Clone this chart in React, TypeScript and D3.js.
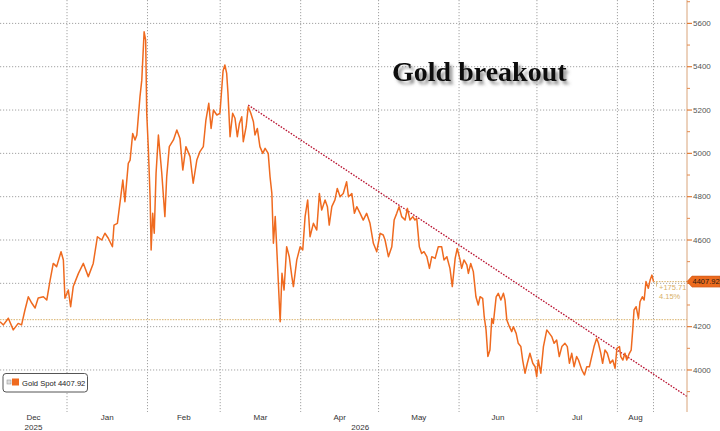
import React from "react";
import * as d3 from "d3";

// ---------- data ----------
const TITLE = "Gold breakout";
const SERIES_NAME = "Gold Spot";
const LAST_PRICE = 4407.92;
const CHANGE_ABS = "+175.71";
const CHANGE_PCT = "4.15%";
const REFERENCE_PRICE = 4232.21;

// day offsets are counted from this date (UTC)
const DAY0 = Date.UTC(2025, 11, 1);
const X_DOMAIN_DAYS = [5.19, 269.8];
const Y_DOMAIN = [3806, 5708];
const MAJOR_TICKS = [4000, 4200, 4400, 4600, 4800, 5000, 5200, 5400, 5600];
const MINOR_TICKS = [3900, 4100, 4300, 4500, 4700, 4900, 5100, 5300, 5500, 5700];
const MONTH_STARTS = ["2025-12-01", "2026-01-01", "2026-02-01", "2026-03-01", "2026-04-01", "2026-05-01", "2026-06-01", "2026-07-01", "2026-08-01", "2026-09-01"];
const YEAR_STARTS = ["2025-01-01", "2026-01-01", "2027-01-01"];

// [days since 2025-12-01, price]
const goldSpot: [number, number][] = [
  [5.2,4223],[6.5,4208],[8.4,4239],[10.3,4185],[12.2,4215],[13.5,4208],[14.8,4277],[16.1,4338],[17.4,4309],[18.7,4286],
  [19.9,4332],[21.9,4338],[23.2,4323],[24.5,4415],[25.7,4492],[27.0,4477],[28.7,4546],[29.6,4508],[30.2,4331],[31.5,4369],
  [32.4,4292],[33.4,4385],[35.4,4446],[37.3,4492],[39.2,4431],[41.1,4492],[42.7,4615],[44.4,4600],[45.6,4631],[46.9,4608],
  [48.5,4569],[49.1,4669],[50.4,4677],[51.7,4800],[52.5,4877],[53.3,4777],[54.6,4954],[55.3,4969],[56.3,5092],[57.2,5062],
  [57.9,5085],[59.1,5261],[59.8,5338],[60.7,5561],[61.3,5523],[61.7,5185],[62.3,5031],[63.0,4800],[63.4,4554],[64.0,4723],
  [64.6,4631],[65.3,4908],[66.2,5085],[67.5,4908],[68.7,4708],[69.4,4892],[70.4,5031],[72.0,5062],[73.3,5108],[74.5,5069],
  [75.6,4923],[76.8,5031],[78.4,4985],[79.6,4862],[81.0,4969],[82.2,5008],[83.5,5031],[84.5,5154],[85.6,5231],[86.5,5115],
  [87.4,5200],[88.7,5177],[89.9,5185],[91.1,5380],[91.8,5408],[92.5,5369],[93.0,5277],[93.8,5077],[94.8,5185],[95.7,5162],
  [96.6,5077],[97.4,5138],[98.3,5169],[98.9,5054],[100.0,5123],[100.8,5215],[101.8,5185],[102.8,5146],[103.4,5085],[104.3,5115],
  [105.3,5031],[106.4,5000],[107.3,5023],[108.5,5000],[109.2,4892],[109.9,4815],[110.5,4585],[111.2,4708],[112.0,4508],[113.1,4223],
  [113.8,4446],[114.6,4369],[115.6,4569],[116.6,4523],[117.6,4431],[118.2,4385],[119.5,4508],[120.8,4569],[121.8,4554],[122.7,4708],
  [123.7,4785],[124.6,4615],[125.9,4677],[127.2,4646],[128.2,4815],[129.1,4738],[130.4,4785],[131.3,4754],[132.0,4669],[133.0,4754],
  [134.2,4785],[135.1,4838],[136.2,4800],[137.4,4815],[138.7,4869],[139.4,4800],[140.7,4815],[141.7,4723],[142.6,4754],[143.9,4723],
  [145.1,4692],[146.4,4723],[147.7,4677],[149.0,4585],[150.3,4546],[151.6,4631],[152.8,4623],[153.5,4600],[154.8,4523],[156.1,4569],
  [157.0,4692],[158.0,4723],[158.9,4754],[159.9,4708],[161.2,4692],[162.1,4746],[163.1,4692],[164.2,4708],[165.0,4692],[165.7,4700],
  [166.7,4569],[167.6,4538],[168.5,4546],[169.6,4523],[170.6,4469],[171.5,4523],[172.8,4515],[174.0,4569],[175.3,4569],[176.2,4508],
  [177.3,4523],[178.5,4469],[179.4,4385],[180.5,4515],[181.3,4561],[182.4,4508],[183.0,4469],[183.9,4508],[185.0,4485],[185.6,4446],
  [186.5,4492],[187.5,4454],[188.5,4338],[189.4,4300],[190.1,4338],[191.1,4331],[191.7,4246],[192.4,4185],[193.1,4062],[193.9,4092],
  [194.6,4238],[195.2,4215],[196.3,4338],[197.1,4354],[198.1,4323],[199.1,4354],[199.7,4323],[200.4,4231],[201.4,4200],[202.3,4177],
  [202.9,4200],[204.0,4169],[204.8,4123],[205.8,4108],[206.5,4046],[207.4,3985],[208.3,4031],[209.3,4077],[210.4,4031],[211.3,4015],
  [211.9,3969],[212.5,4046],[213.5,3985],[214.5,4108],[215.8,4185],[216.8,4169],[217.7,4154],[218.6,4123],[219.6,4138],[220.6,4062],
  [221.6,4108],[222.8,4123],[223.7,4108],[224.5,4031],[225.4,4077],[226.3,4015],[227.3,4062],[228.0,4046],[229.3,4000],[230.3,3977],
  [231.2,4015],[232.2,4015],[233.1,4062],[234.0,4108],[235.0,4146],[235.7,4123],[236.6,4077],[237.3,4031],[238.2,4092],[239.1,4077],
  [240.2,4031],[241.2,4046],[242.1,4008],[242.8,4100],[243.8,4108],[244.3,4062],[245.1,4046],[245.9,4077],[246.6,4046],[247.6,4077],
  [248.3,4092],[248.9,4185],[249.4,4277],[250.2,4292],[251.1,4238],[251.7,4315],[252.6,4338],[253.3,4323],[254.0,4408],[254.9,4377],
  [255.6,4415],[256.3,4438],[256.9,4407.92],
];

// falling resistance line [days, price]
const trendline: [number, number][] = [[100.8, 5223], [269.8, 3878]];

// ---------- layout / style ----------
const W = 720;
const H = 431;
const PLOT_LEFT = 0;
const PLOT_RIGHT = 687;
const PLOT_TOP = 0;
const PLOT_BOTTOM = 412;
const ORANGE = "#ef6a1f";
const TAN = "#d8b068";
const AXIS_COLOR = "#d9a47a";
const GRID = "#a3a3a3";
const SANS = "'Liberation Sans', Arial, sans-serif";

const toDate = (d: number) => new Date(DAY0 + d * 86400000);

export default function App() {
  const x = d3
    .scaleUtc()
    .domain(X_DOMAIN_DAYS.map(toDate))
    .range([PLOT_LEFT, PLOT_RIGHT]);
  const y = d3.scaleLinear().domain(Y_DOMAIN).range([PLOT_BOTTOM, PLOT_TOP]);

  const line = d3
    .line<[number, number]>()
    .x((d) => x(toDate(d[0])))
    .y((d) => y(d[1]));

  const parse = d3.utcParse("%Y-%m-%d");
  const months = MONTH_STARTS.map((s) => parse(s) as Date);
  const years = YEAR_STARTS.map((s) => parse(s) as Date);
  const [d0] = x.domain();
  const lastDate = toDate(goldSpot[goldSpot.length - 1][0]);
  const fmtMonth = d3.utcFormat("%b");
  const fmtYear = d3.utcFormat("%Y");

  const gridDates = months.filter((m) => m > d0 && m < lastDate).concat([lastDate]);

  const monthLabels = months.slice(0, -1).map((m, i) => {
    const a = m < d0 ? d0 : m;
    const bRaw = months[i + 1];
    const b = bRaw > lastDate ? lastDate : bRaw;
    return { label: fmtMonth(m), cx: (x(a) + x(b)) / 2, valid: b > a };
  }).filter((m) => m.valid);

  const yearLabels = years.slice(0, -1).map((yr, i) => {
    const a = yr < d0 ? d0 : yr;
    const b = years[i + 1] > lastDate ? lastDate : years[i + 1];
    const cx = yr < d0 ? (x(a) + x(months[1])) / 2 : (x(a) + x(b)) / 2;
    return { label: fmtYear(yr), cx, valid: b > a };
  }).filter((v) => v.valid);

  const lastX = x(lastDate);
  const lastY = y(LAST_PRICE);
  // tick labels hidden behind the last-price tag
  const visibleLabels = MAJOR_TICKS.filter((v) => Math.abs(y(v) - lastY) > 9);

  return (
    <div style={{ position: "absolute", left: 0, top: 0, width: W, height: H, background: "#fff" }}>
      <svg width={W} height={H} style={{ display: "block" }}>
        <defs>
          <filter id="titleShadow" x="-10%" y="-40%" width="130%" height="200%">
            <feDropShadow dx="3" dy="3.5" stdDeviation="1.5" floodColor="#555" floodOpacity="0.6" />
          </filter>
        </defs>
        <rect width={W} height={H} fill="#fff" />

        {/* horizontal grid */}
        {MAJOR_TICKS.map((v) => (
          <line key={"hg" + v} x1={PLOT_LEFT} x2={PLOT_RIGHT} y1={y(v)} y2={y(v)}
            stroke={GRID} strokeWidth={1} strokeDasharray="1.2,1.8" />
        ))}
        {/* vertical grid */}
        {gridDates.map((d, i) => (
          <line key={"vg" + i} x1={x(d)} x2={x(d)} y1={PLOT_TOP} y2={PLOT_BOTTOM}
            stroke={GRID} strokeWidth={1} strokeDasharray="1.2,1.8" />
        ))}

        {/* reference price line */}
        <line x1={PLOT_LEFT} x2={PLOT_RIGHT} y1={y(REFERENCE_PRICE)} y2={y(REFERENCE_PRICE)}
          stroke={TAN} strokeWidth={1} strokeDasharray="1.5,1.2" />
        {/* last price line */}
        <line x1={lastX} x2={PLOT_RIGHT} y1={lastY} y2={lastY}
          stroke={TAN} strokeWidth={1} strokeDasharray="1.5,1.2" />
        <line x1={lastX + 3} x2={lastX + 3} y1={lastY} y2={lastY + 5} stroke={TAN} strokeWidth={0.8} />

        {/* title */}
        <text x={392} y={81} fontFamily="'Liberation Serif', 'Times New Roman', serif" fontWeight="bold"
          fontSize={28} fill="#111" filter="url(#titleShadow)">{TITLE}</text>

        {/* trendline */}
        <path d={line(trendline) || ""} fill="none" stroke="#b8112f" strokeWidth={1.3} strokeDasharray="1.6,1.4" />

        {/* price series */}
        <path d={line(goldSpot) || ""} fill="none" stroke={ORANGE} strokeWidth={1.5} strokeLinejoin="round" />

        {/* change annotation */}
        <text x={659} y={290} fontFamily={SANS} fontSize={7.5} fill={TAN}>{CHANGE_ABS}</text>
        <text x={659} y={299} fontFamily={SANS} fontSize={7.5} fill={TAN}>{CHANGE_PCT}</text>

        {/* right axis */}
        <line x1={PLOT_RIGHT} x2={PLOT_RIGHT} y1={PLOT_TOP} y2={PLOT_BOTTOM} stroke={AXIS_COLOR} strokeWidth={1} />
        {MINOR_TICKS.map((v) => (
          <line key={"mt" + v} x1={PLOT_RIGHT} x2={PLOT_RIGHT + 3} y1={y(v)} y2={y(v)} stroke="#e58a4c" strokeWidth={1} />
        ))}
        {MAJOR_TICKS.map((v) => (
          <line key={"t" + v} x1={PLOT_RIGHT} x2={PLOT_RIGHT + 5} y1={y(v)} y2={y(v)} stroke="#e07a35" strokeWidth={1.2} />
        ))}
        {visibleLabels.map((v) => (
          <text key={"tl" + v} x={PLOT_RIGHT + 6} y={y(v)} dy="0.34em" fontFamily={SANS} fontSize={8} fill="#555">{v}</text>
        ))}

        {/* last price tag */}
        <path d={`M${PLOT_RIGHT},${lastY} L${PLOT_RIGHT + 5},${lastY - 5.5} L${W},${lastY - 5.5} L${W},${lastY + 5.5} L${PLOT_RIGHT + 5},${lastY + 5.5} Z`}
          fill="#ec6b1e" stroke="#c9551a" strokeWidth={0.6} />
        <text x={PLOT_RIGHT + 5.5} y={lastY} dy="0.35em" fontFamily={SANS} fontSize={7.5} fill="#2a1a10">{LAST_PRICE.toFixed(2)}</text>

        {/* legend */}
        <rect x={3} y={373.5} width={84.5} height={18.5} rx={3} fill="#fff" stroke="#555" strokeWidth={1} />
        <rect x={7} y={380} width={4} height={4} fill="#ddd" stroke="#999" strokeWidth={0.6} />
        <rect x={12} y={378.5} width={7} height={7} fill={ORANGE} />
        <text x={22} y={385.5} fontFamily={SANS} fontSize={7.6} fill="#222">{`${SERIES_NAME} ${LAST_PRICE.toFixed(2)}`}</text>

        {/* x axis labels */}
        {monthLabels.map((m, i) => (
          <text key={"ml" + i} x={m.cx} y={420} textAnchor="middle" fontFamily={SANS} fontSize={8} fill="#333">{m.label}</text>
        ))}
        {yearLabels.map((v, i) => (
          <text key={"yl" + i} x={v.cx} y={430} textAnchor="middle" fontFamily={SANS} fontSize={8} fill="#333">{v.label}</text>
        ))}
      </svg>
    </div>
  );
}
